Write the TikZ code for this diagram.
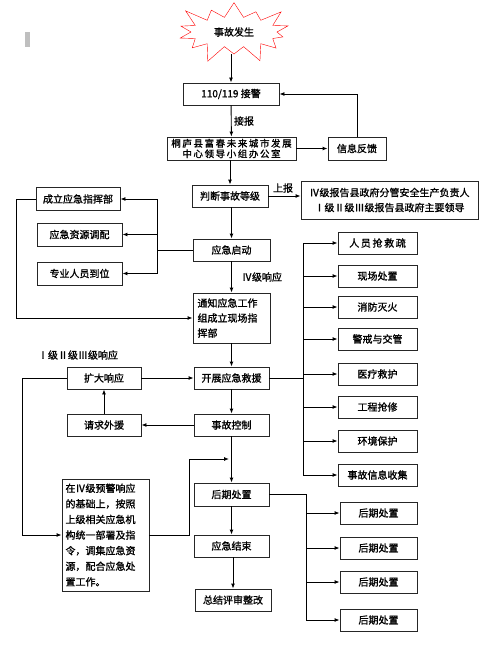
\documentclass[tikz,border=0pt]{standalone}
\usepackage{fontspec}
\setmainfont{Noto Sans CJK SC}[AutoFakeBold=1.2]
\usetikzlibrary{arrows.meta,shapes.symbols,positioning,calc}

\begin{document}
\begin{tikzpicture}[
    x=1pt, y=-1pt,
    font=\bfseries\fontsize{10}{12.5}\selectfont,
    box/.style={rectangle, draw=black!85, line width=0.9pt, fill=white, minimum width=75pt, minimum height=22pt, inner sep=2pt, align=center},
    sidebox/.style={box, minimum width=79pt},
    arrow/.style={-{Latex[length=5pt,width=4pt]}, line width=0.9pt},
    link/.style={line width=0.9pt}
]
    \useasboundingbox (0,0) rectangle (500,647);
    \fill[black!25] (25,32) rectangle (30,47);

    % main column
    \node[starburst, draw=red, fill=white, starburst points=14, starburst point height=20pt, minimum width=126pt, minimum height=70pt, inner sep=0pt] (start) at (234,32) {事故发生};
    \node[box, minimum width=96pt] (alarm) at (231,94) {110/119 接警};
    \node[box, minimum width=129pt, minimum height=23pt, inner sep=1pt, font=\bfseries\fontsize{9.5}{10.5}\selectfont] (office) at (231.5,148.5) {桐\,庐\,县\,富\,春\,未\,来\,城\,市\,发\,展\\中\,心\,领\,导\,小\,组\,办\,公\,室};
    \node[box, minimum width=58pt, minimum height=23pt] (feedback) at (357,148.5) {信息反馈};
    \node[box, minimum width=76pt] (judge) at (230,196) {判断事故等级};
    \node[box, minimum width=177pt, minimum height=38pt, font=\bfseries\fontsize{10}{15}\selectfont] (report) at (389.5,200) {Ⅳ级报告县政府分管安全生产负责人\\Ⅰ级Ⅱ级Ⅲ级报告县政府主要领导};
    \node[box, minimum width=77pt] (launch) at (231.5,250) {应急启动};
    \node[box, minimum width=77pt, minimum height=50pt, text width=68pt, align=left, font=\bfseries\fontsize{10}{15}\selectfont] (notify) at (231.5,318) {通知应急工作\\组成立现场指\\挥部};
    \node[box] (rescue) at (231.5,378) {开展应急救援};
    \node[box] (control) at (231.5,425) {事故控制};
    \node[box, minimum height=23pt] (after) at (231.5,494.5) {后期处置};
    \node[box] (finish) at (231.5,546) {应急结束};
    \node[box, minimum width=76pt] (review) at (233,600) {总结评审整改};

    % left column
    \node[box, minimum width=84pt, minimum height=23pt] (command) at (78,199) {成立应急指挥部};
    \node[box, minimum width=85pt, minimum height=23pt] (resource) at (79.5,234.5) {应急资源调配};
    \node[box, minimum width=85pt, minimum height=23pt] (staff) at (79.5,273.5) {专业人员到位};
    \node[box, minimum width=74pt] (expand) at (104,378) {扩大响应};
    \node[box, minimum width=74pt] (help) at (104,425) {请求外援};
    \node[box, minimum width=87pt, minimum height=112pt, text width=80pt, align=left, font=\bfseries\fontsize{10}{15.6}\selectfont] (levelfour) at (105.5,535) {在Ⅳ级预警响应\\的基础上，按照\\上级相关应急机\\构统一部署及指\\令，调集应急资\\源，配合应急处\\置工作。};

    % right column
    \node[sidebox] (r1) at (377.5,243) {人\,员\,抢\,救\,疏};
    \node[sidebox] (r2) at (377.5,276) {现场处置};
    \node[sidebox] (r3) at (377.5,307) {消防灭火};
    \node[sidebox] (r4) at (377.5,339) {警戒与交管};
    \node[sidebox] (r5) at (377.5,374) {医疗救护};
    \node[sidebox] (r6) at (377.5,407) {工程抢修};
    \node[sidebox] (r7) at (377.5,441) {环境保护};
    \node[sidebox] (r8) at (377.5,475) {事故信息收集};
    \node[sidebox, minimum width=77pt] (h1) at (378.5,513) {后期处置};
    \node[sidebox, minimum width=77pt] (h2) at (378.5,548) {后期处置};
    \node[sidebox, minimum width=77pt] (h3) at (378.5,582) {后期处置};
    \node[sidebox, minimum width=77pt] (h4) at (378.5,620) {后期处置};

    % labels
    \node (lbreport) at (244,121) {接报};
    \node (lbup) at (283,188) {上报};
    \node (lbfour) at (262,277) {Ⅳ级响应};
    \node (lbthree) at (78,355) {Ⅰ级Ⅱ级Ⅲ级响应};

    % buses
    \coordinate (lbus) at (157,250);
    \coordinate (rbus) at (303,378);
    \coordinate (hbus) at (306,494.5);
    \coordinate (merge) at (229,459);

    % connectors
    \draw[arrow] (alarm.north |- start.south) -- (alarm);
    \draw[arrow] (alarm) -- (office);
    \draw[arrow] (office) -- (feedback);
    \draw[arrow] (feedback.north) |- (alarm.east);
    \draw[arrow] (office.south -| judge.north) -- (judge);
    \draw[arrow] (judge.east) -- (report.west |- judge.east);
    \draw[arrow] (judge.south -| launch.north) -- (launch);
    \draw[link] (launch.west) -- (lbus);
    \draw[link] (lbus |- command.east) -- (lbus |- staff.east);
    \foreach \n in {command,resource,staff}
        \draw[arrow] (lbus |- \n.east) -- (\n.east);
    \draw[arrow] (command.west) -- ++(-19,0) |- (notify.west);
    \draw[arrow] (launch) -- (notify);
    \draw[arrow] (notify) -- (rescue);
    \draw[arrow] (expand) -- (rescue);
    \draw[arrow] (rescue) -- (control);
    \draw[arrow] (control) -- (help);
    \draw[arrow] (help) -- (expand);
    \draw[arrow] (expand.west) -- ++(-44,0) |- (levelfour.west);
    \draw[arrow] (levelfour.east) -- ++(40,0) |- (merge);
    \draw[arrow] (control) -- (after);
    \draw[arrow] (after) -- (finish);
    \draw[arrow] (finish.south -| review.north) -- (review);
    \draw[link] (rescue.east) -- (rbus);
    \draw[link] (rbus |- r1.west) -- (rbus |- r8.west);
    \foreach \n in {r1,r2,r3,r4,r5,r6,r7,r8}
        \draw[arrow] (rbus |- \n.west) -- (\n.west);
    \draw[link] (after.east) -- (hbus) -- (hbus |- h4.west);
    \foreach \n in {h1,h2,h3,h4}
        \draw[arrow] (hbus |- \n.west) -- (\n.west);
\end{tikzpicture}
\end{document}
